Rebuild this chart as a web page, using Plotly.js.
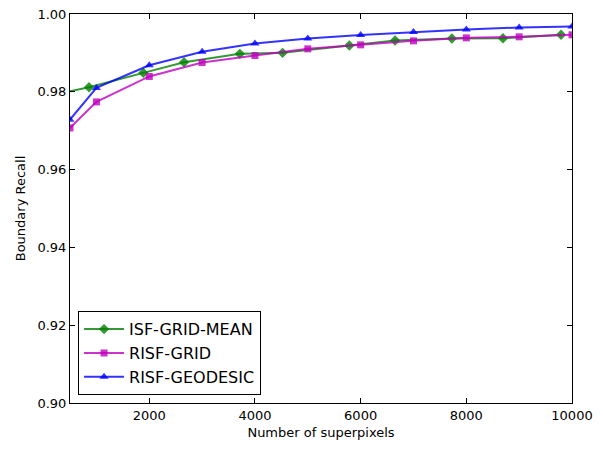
<!DOCTYPE html>
<html>
<head>
<meta charset="utf-8">
<script src="https://cdn.plot.ly/plotly-3.0.1.min.js"></script>
<style>html,body{margin:0;padding:0;background:#fff;}#chart{width:603px;height:451px;}</style>
</head>
<body>
<div id="chart"></div>
<script>
// Data
const isfX = [300, 860, 1888, 2658, 3714, 4523, 5786, 6652, 7727, 8694, 9793];
const isfY = [0.9796, 0.98116, 0.98487, 0.98759, 0.98976, 0.99001, 0.99189, 0.99318, 0.99369, 0.99377, 0.99465];
const risfGridX = [500, 1000, 2000, 3000, 4000, 5000, 6000, 7000, 8000, 9000, 10000];
const risfGridY = [0.97071, 0.97740, 0.98394, 0.98752, 0.98932, 0.99104, 0.99207, 0.99310, 0.99387, 0.99413, 0.99465];
const risfGeoX = [500, 1000, 2000, 3000, 4000, 5000, 6000, 7000, 8000, 9000, 10000];
const risfGeoY = [0.97284, 0.98100, 0.98682, 0.99027, 0.99241, 0.99369, 0.99459, 0.99537, 0.99601, 0.99653, 0.99678];
const seriesNames = ["ISF-GRID-MEAN", "RISF-GRID", "RISF-GEODESIC"];
const xTicks = [2000, 4000, 6000, 8000, 10000];
const yTicks = [0.90, 0.92, 0.94, 0.96, 0.98, 1.00];

const font = "DejaVu Sans, sans-serif";
const traces = [
  {x: isfX, y: isfY, name: seriesNames[0], mode: "lines+markers",
   line: {color: "rgba(0,128,0,0.8)", width: 2},
   marker: {symbol: "diamond", size: 8, color: "rgba(0,128,0,0.8)"}},
  {x: risfGridX, y: risfGridY, name: seriesNames[1], mode: "lines+markers",
   line: {color: "rgba(191,0,191,0.8)", width: 2},
   marker: {symbol: "square", size: 7, color: "rgba(191,0,191,0.8)"}},
  {x: risfGeoX, y: risfGeoY, name: seriesNames[2], mode: "lines+markers",
   line: {color: "rgba(0,0,255,0.8)", width: 2},
   marker: {symbol: "triangle-up", size: 8, color: "rgba(0,0,255,0.8)"}}
];
const layout = {
  width: 603, height: 451,
  margin: {l: 70, r: 31, t: 14, b: 48},
  paper_bgcolor: "#fff", plot_bgcolor: "#fff",
  font: {family: font, size: 13, color: "#000"},
  showlegend: true,
  legend: {x: 0.016, y: 0.02, xanchor: "left", yanchor: "bottom",
    bordercolor: "#000", borderwidth: 1, bgcolor: "#fff",
    font: {family: font, size: 16, color: "#000"}, tracegroupgap: 0, itemwidth: 40},
  xaxis: {range: [500, 10000], tickvals: xTicks, ticktext: xTicks.map(String),
    showgrid: false, zeroline: false, showline: true, linecolor: "#000", linewidth: 1,
    mirror: "ticks", ticks: "inside", ticklen: 5, tickcolor: "#000",
    title: {text: "Number of superpixels", font: {family: font, size: 13}, standoff: 6},
    tickfont: {family: font, size: 13}},
  yaxis: {range: [0.90, 1.00], tickvals: yTicks, ticktext: yTicks.map(v => v.toFixed(2)),
    showgrid: false, zeroline: false, showline: true, linecolor: "#000", linewidth: 1,
    mirror: "ticks", ticks: "inside", ticklen: 5, tickcolor: "#000",
    title: {text: "Boundary Recall", font: {family: font, size: 13}, standoff: 8},
    tickfont: {family: font, size: 13}}
};
Plotly.newPlot("chart", traces, layout, {displayModeBar: false, staticPlot: true});
</script>
</body>
</html>
